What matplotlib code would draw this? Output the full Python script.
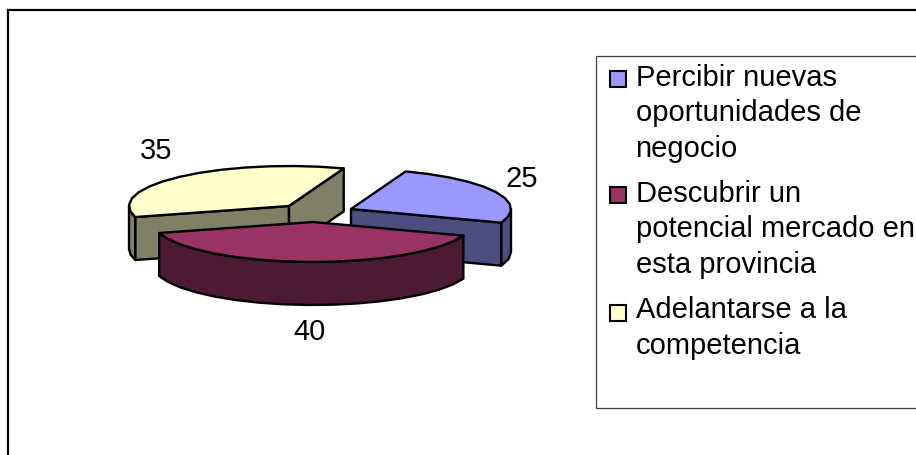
import numpy as np
import matplotlib
matplotlib.use("Agg")
import matplotlib.pyplot as plt
from matplotlib.patches import Polygon, Rectangle

categories = [
    ["Percibir nuevas", "oportunidades de", "negocio"],
    ["Descubrir un", "potencial mercado en", "esta provincia"],
    ["Adelantarse a la", "competencia"],
]
values = [25, 40, 35]
top_colors = ["#9999FF", "#993366", "#FFFFCC"]
side_colors = ["#4D4D80", "#4D1A33", "#808066"]

FIRST_ANGLE = 20.0
RX, RY, DEPTH = 160.0, 40.0, 43.0
apexes = [(351, 209), (313, 222), (289, 206)]
label_pos = [(522, 179), (309, 332), (156, 151)]
legend_baselines = [[86, 121, 157], [202, 237, 273], [318, 354]]
legend_swatch_y = [71, 187, 305]

plt.rcParams["font.family"] = ["Liberation Sans", "DejaVu Sans"]
fig = plt.figure(figsize=(9.16, 4.55), dpi=100)
ax = fig.add_axes([0, 0, 1, 1])
ax.set_xlim(0, 916)
ax.set_ylim(455, 0)
ax.axis("off")

# outer chart frame (open at the right and the bottom, cropped by the image)
ax.plot([8, 8, 916], [455, 10, 10], color="black", lw=1.6, solid_joinstyle="miter", zorder=1)


def arc(cx, cy, a0, a1, step=9.0):
    n = max(2, int(round(abs(a1 - a0) / step)) + 1)
    t = np.radians(np.linspace(a0, a1, n))
    return np.column_stack([cx + RX * np.sin(t), cy - RY * np.cos(t)])


def face(pts, color, z):
    ax.add_patch(Polygon(pts, closed=True, facecolor=color, edgecolor="black",
                         lw=1.7, joinstyle="round", zorder=z))


def extrude(pts):
    pts = np.asarray(pts)
    return np.vstack([pts, (pts + [0, DEPTH])[::-1]])


total = sum(values)
spans = []
a = FIRST_ANGLE
for v in values:
    spans.append((a, a + 360.0 * v / total))
    a = spans[-1][1]

for idx, z in [(2, 2), (0, 3), (1, 4)]:
    a0, a1 = spans[idx]
    cx, cy = apexes[idx]
    c = np.array([[cx, cy]])
    # a cut face shows when its outward normal points down the screen
    for cut, sign in ((a0, -1), (a1, 1)):
        if sign * np.sin(np.radians(cut)) > 0:
            e = np.array([[cx + RX * np.sin(np.radians(cut)), cy - RY * np.cos(np.radians(cut))]])
            face(extrude(np.vstack([c, e])), side_colors[idx], z)
    # outer wall: only the part of the rim in front (clock angle 90..270)
    lo = max(a0, 90.0)
    hi = min(a1, 270.0)
    if hi > lo:
        face(extrude(arc(cx, cy, lo, hi)), side_colors[idx], z)
    face(np.vstack([c, arc(cx, cy, a0, a1)]), top_colors[idx], z + 0.5)

for (x, y), v in zip(label_pos, values):
    ax.text(x, y, str(v), fontsize=21, ha="center", va="center", color="black", zorder=6)

# legend
ax.add_patch(Rectangle((595.5, 55.5), 400, 352.5, facecolor="white", edgecolor="#404040",
                       lw=0.9, zorder=5, clip_on=True))
for lines, bases, sy, col in zip(categories, legend_baselines, legend_swatch_y, top_colors):
    ax.add_patch(Rectangle((609.5, sy), 16.5, 16, facecolor=col, edgecolor="black", lw=1.5, zorder=6))
    for line, b in zip(lines, bases):
        ax.text(635.5, b, line, fontsize=21, ha="left", va="baseline", color="black", zorder=6)

fig.savefig("out.png", dpi=100, facecolor="white")
